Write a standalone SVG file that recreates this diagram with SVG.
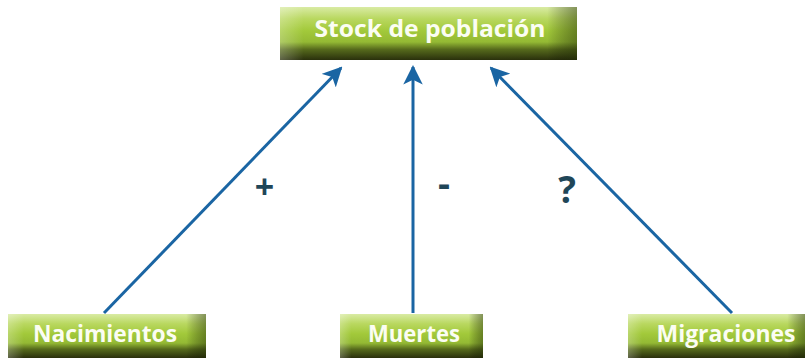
<svg xmlns="http://www.w3.org/2000/svg" width="806" height="358" viewBox="0 0 806 358">
<defs>
<linearGradient id="gv" x1="0" y1="0" x2="0" y2="1">
<stop offset="0" stop-color="#d9eba4"/>
<stop offset="0.22" stop-color="#b9d860"/>
<stop offset="0.45" stop-color="#a2c93a"/>
<stop offset="0.66" stop-color="#94b934"/>
<stop offset="0.8" stop-color="#566a1c"/>
<stop offset="1" stop-color="#2a300c"/>
</linearGradient>
<linearGradient id="gh" x1="0" y1="0" x2="1" y2="0">
<stop offset="0" stop-color="#ffffff" stop-opacity="0.25"/>
<stop offset="0.08" stop-color="#ffffff" stop-opacity="0"/>
<stop offset="0.9" stop-color="#000000" stop-opacity="0"/>
<stop offset="1" stop-color="#1e2a05" stop-opacity="0.45"/>
</linearGradient>
<marker id="ah" viewBox="0 0 10 10" refX="9" refY="5" markerWidth="6.5" markerHeight="6.5" orient="auto" markerUnits="strokeWidth">
<path d="M0,0 L10,5 L0,10 L2.5,5 Z" fill="#1a65a3"/>
</marker>
</defs>
<style>
.box{fill:url(#gv)}
.shade{fill:url(#gh)}
.t{font-family:"Open Sans","Noto Sans",sans-serif;font-weight:bold;fill:#fbfdf3;text-anchor:middle}
.lbl{font-family:"Open Sans","Noto Sans",sans-serif;font-weight:bold;fill:#1f4658;text-anchor:middle}
.c{stroke:#1a65a3;stroke-width:3;fill:none;marker-end:url(#ah)}
</style>
<g id="connectors">
<line class="c" x1="104" y1="313" x2="341" y2="68"/>
<line class="c" x1="413" y1="313" x2="413" y2="67"/>
<line class="c" x1="732" y1="313" x2="491" y2="68"/>
<text class="lbl" x="264.5" y="199" font-size="34">+</text>
<text class="lbl" x="444" y="196" font-size="36" textLength="12" lengthAdjust="spacingAndGlyphs">-</text>
<text class="lbl" x="567" y="203" font-size="37">?</text>
</g>
<g id="stock">
<rect class="box" x="280" y="7" width="297" height="53"/>
<rect class="shade" x="280" y="7" width="297" height="53"/>
<text class="t" x="430" y="37" font-size="24" textLength="231" lengthAdjust="spacingAndGlyphs">Stock de población</text>
</g>
<g id="nacimientos">
<rect class="box" x="8" y="314" width="198" height="44"/>
<rect class="shade" x="8" y="314" width="198" height="44"/>
<text class="t" x="105" y="342" font-size="24" textLength="144" lengthAdjust="spacingAndGlyphs">Nacimientos</text>
</g>
<g id="muertes">
<rect class="box" x="340" y="314" width="143" height="44"/>
<rect class="shade" x="340" y="314" width="143" height="44"/>
<text class="t" x="414" y="342" font-size="24" textLength="92" lengthAdjust="spacingAndGlyphs">Muertes</text>
</g>
<g id="migraciones">
<rect class="box" x="628" y="314" width="177" height="44"/>
<rect class="shade" x="628" y="314" width="177" height="44"/>
<text class="t" x="726" y="342" font-size="24" textLength="139" lengthAdjust="spacingAndGlyphs">Migraciones</text>
</g>
</svg>
